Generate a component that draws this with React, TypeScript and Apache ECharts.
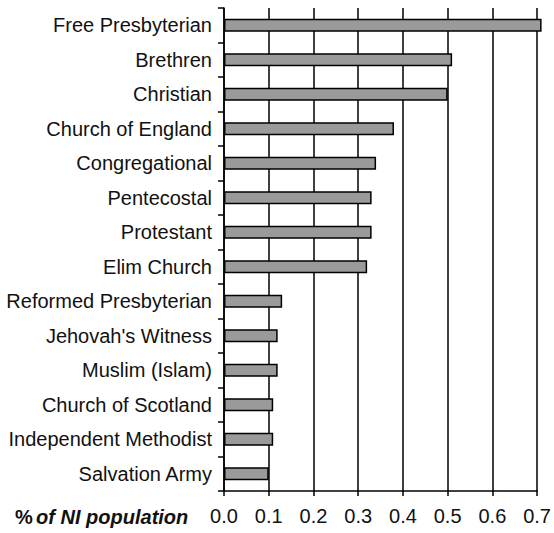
import React, { useEffect, useRef } from "react";
import * as echarts from "echarts";

const categories = [
  "Free Presbyterian",
  "Brethren",
  "Christian",
  "Church of England",
  "Congregational",
  "Pentecostal",
  "Protestant",
  "Elim Church",
  "Reformed Presbyterian",
  "Jehovah's Witness",
  "Muslim (Islam)",
  "Church of Scotland",
  "Independent Methodist",
  "Salvation Army",
];
const values = [0.71, 0.51, 0.5, 0.38, 0.34, 0.33, 0.33, 0.32, 0.13, 0.12, 0.12, 0.11, 0.11, 0.1];
const axisTitle = "% of NI population";

export default function App() {
  const ref = useRef<HTMLDivElement>(null);
  useEffect(() => {
    if (!ref.current) return;
    const chart = echarts.init(ref.current, null, { renderer: "svg" });
    const font = "Liberation Sans, Arial, sans-serif";
    chart.setOption({
      animation: false,
      grid: { left: 224, right: 16, top: 8, bottom: 42 },
      xAxis: {
        type: "value",
        min: 0,
        max: 0.7,
        interval: 0.1,
        axisLine: { show: true, lineStyle: { color: "#000", width: 1.5 } },
        axisTick: { show: true, length: 5, lineStyle: { color: "#000", width: 1.5 } },
        splitLine: { show: true, lineStyle: { color: "#000", width: 1.5 } },
        axisLabel: {
          color: "#111",
          fontSize: 20,
          fontFamily: font,
          margin: 15,
          formatter: (v: number) => v.toFixed(1),
        },
      },
      yAxis: {
        type: "category",
        data: categories,
        inverse: true,
        axisLine: { show: true, lineStyle: { color: "#000", width: 1.5 } },
        axisTick: { show: true, length: 6, lineStyle: { color: "#000", width: 1.5 } },
        splitLine: { show: false },
        axisLabel: { color: "#111", fontSize: 20, fontFamily: font, margin: 12 },
      },
      series: [
        {
          type: "bar",
          data: values,
          barWidth: 13,
          clip: false,
          itemStyle: { color: "#9a9a9a", borderColor: "#000", borderWidth: 1.5 },
        },
      ],
      graphic: [
        {
          type: "text",
          left: 15,
          top: 507,
          style: {
            text: "{a|%} {b|of NI population}",
            rich: {
              a: { fontSize: 20, fontWeight: "bold", fontFamily: font, fill: "#111" },
              b: { fontSize: 20, fontWeight: "bold", fontStyle: "italic", fontFamily: font, fill: "#111" },
            },
          },
        },
      ],
    });
    return () => chart.dispose();
  }, []);
  return <div ref={ref} style={{ width: 554, height: 533, position: "absolute", left: 0, top: 0 }} />;
}
